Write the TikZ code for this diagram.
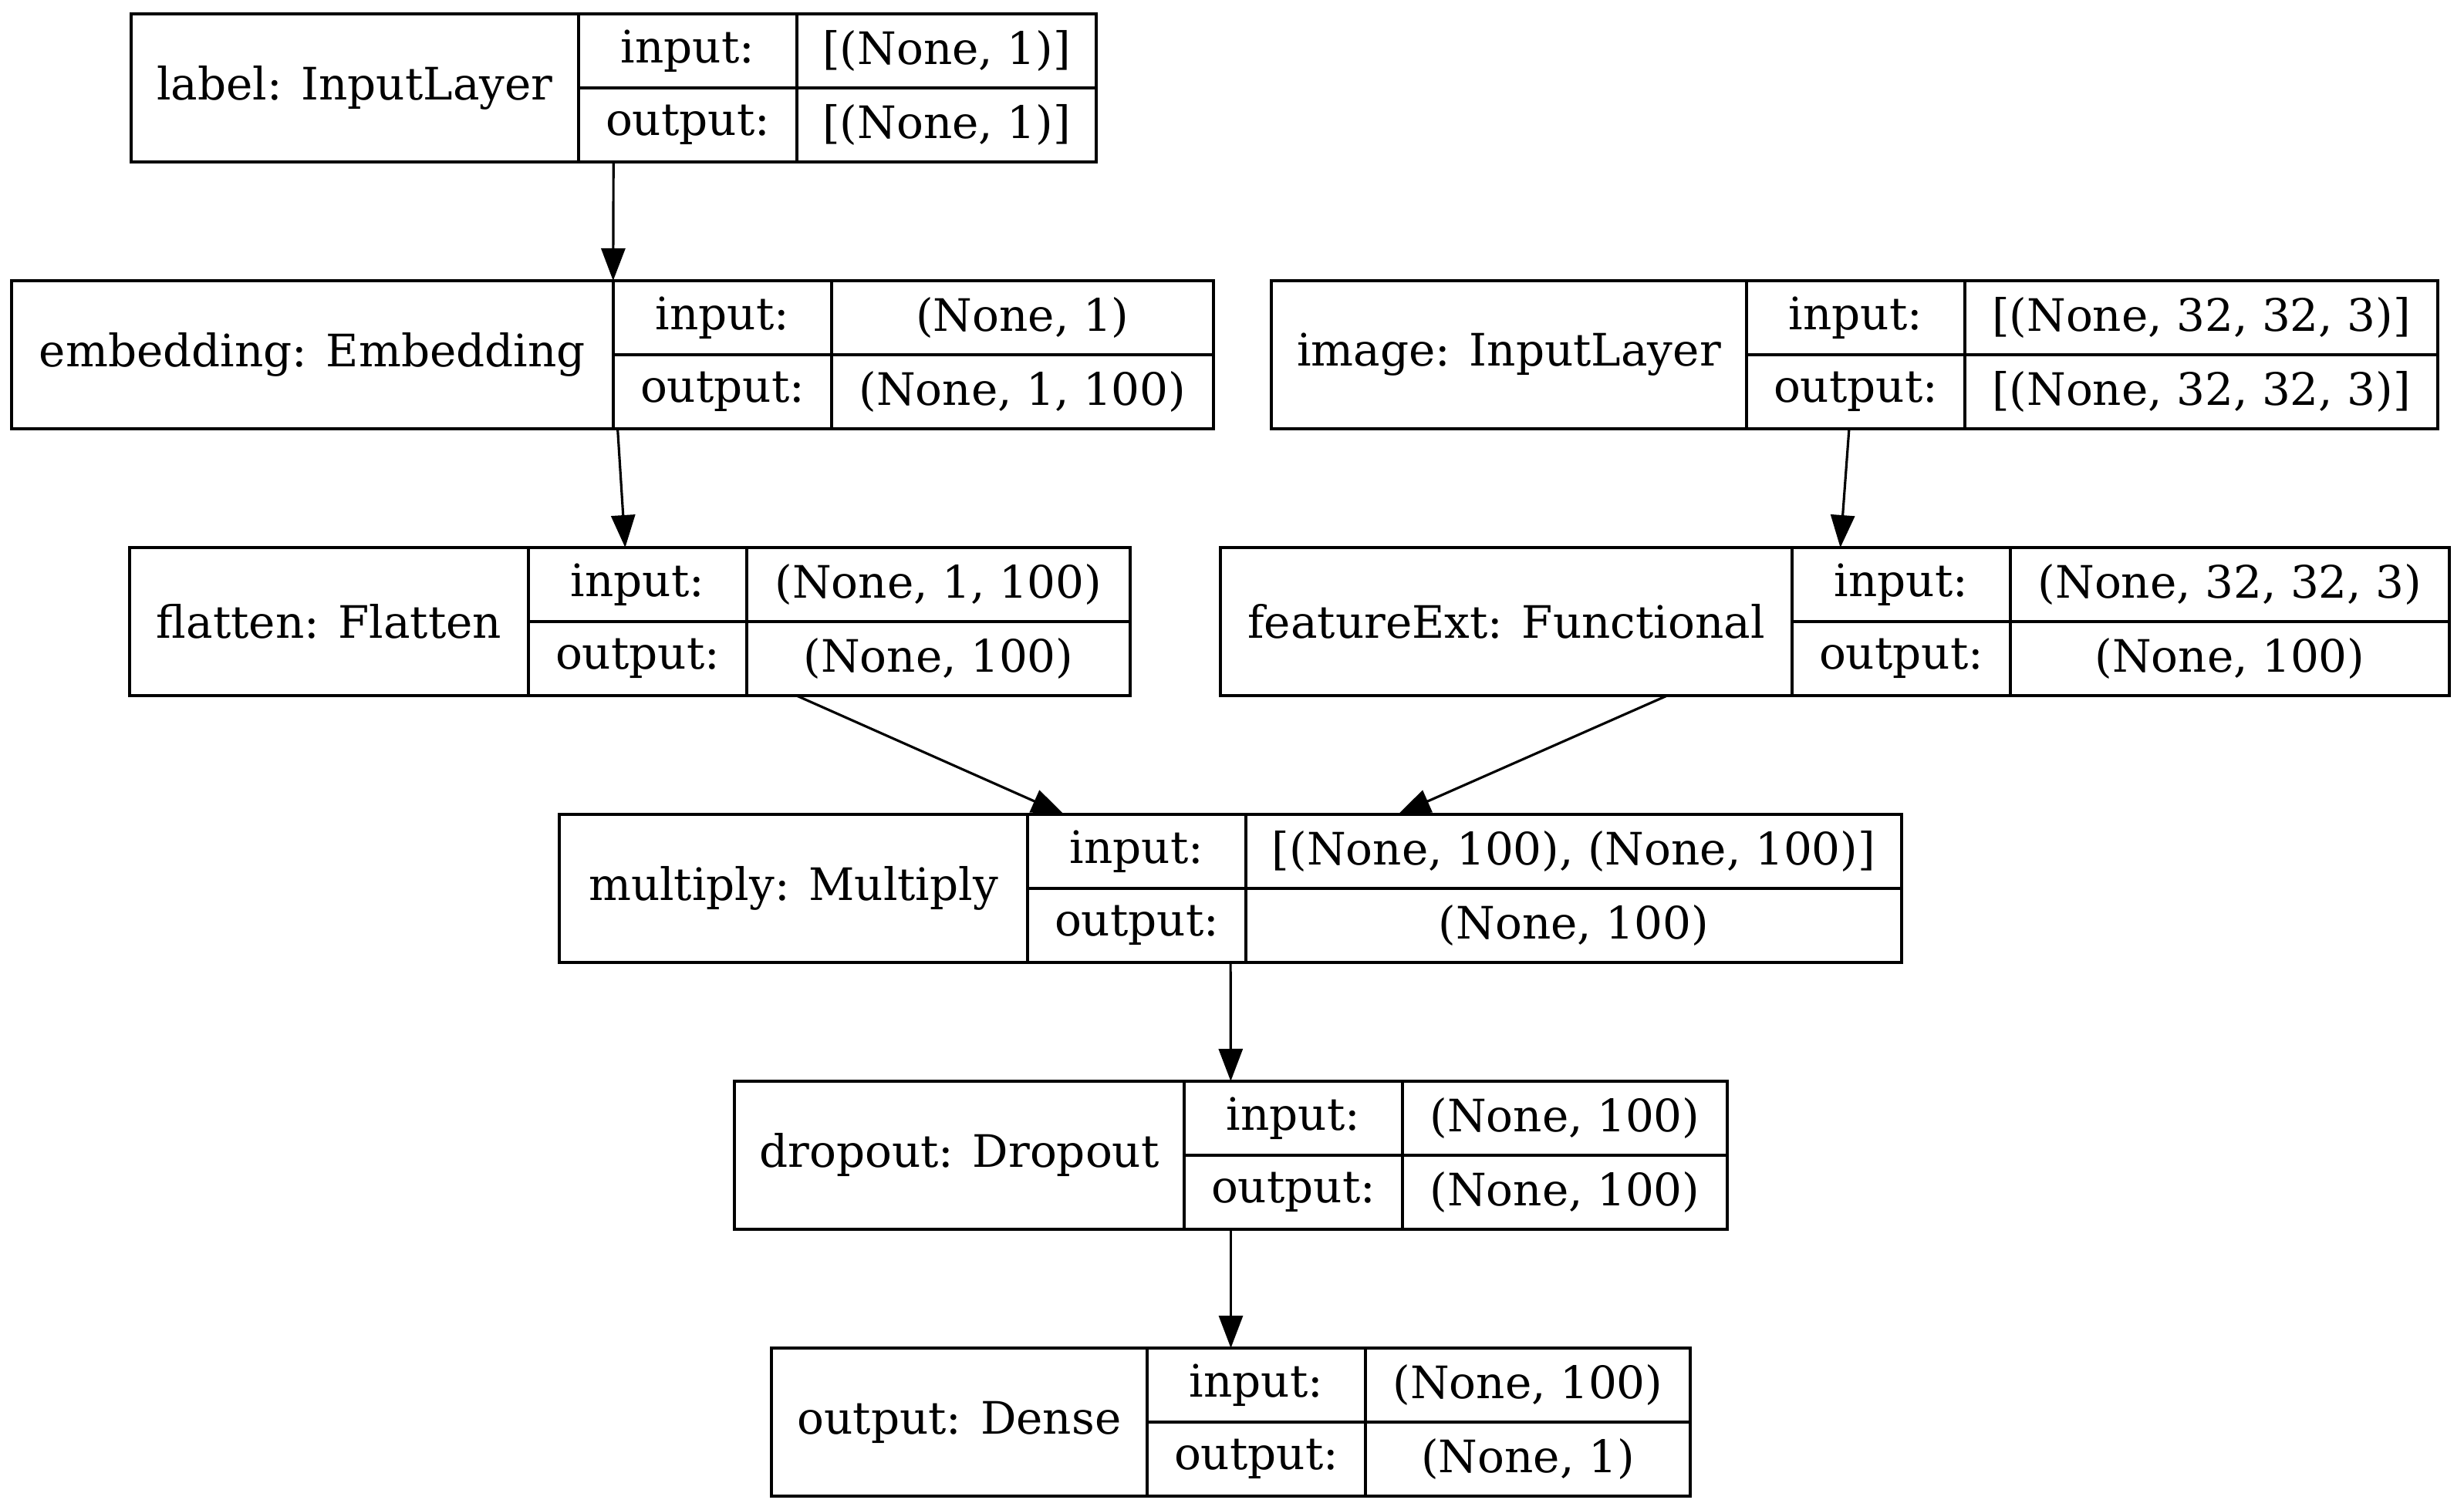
\documentclass[tikz,border=0pt]{standalone}
\usepackage{fontspec}
\setmainfont{DejaVu Serif}
\usepackage{tikz}
\usetikzlibrary{arrows.meta,positioning}
\tikzset{
  layer/.style={
    rectangle,
    minimum height=1.92cm,
    inner sep=0pt,
    outer sep=0pt
  },
  titlecell/.style={
    rectangle,
    draw=black,
    line width=0.9pt,
    minimum height=1.92cm,
    inner sep=0pt,
    outer sep=0pt,
    anchor=north west,
    font=\fontsize{16.5}{19.8}\selectfont
  },
  keycell/.style={
    rectangle,
    draw=black,
    line width=0.9pt,
    minimum width=2.83cm,
    minimum height=0.96cm,
    inner sep=0pt,
    outer sep=0pt,
    font=\fontsize{16.5}{19.8}\selectfont
  },
  valcell/.style={
    rectangle,
    draw=black,
    line width=0.9pt,
    minimum height=0.96cm,
    inner sep=0pt,
    outer sep=0pt,
    font=\fontsize{16.5}{19.8}\selectfont
  },
  link/.style={-{Triangle[length=4.2mm,width=3.1mm]},line width=0.9pt,draw=black}
}
\begin{document}
\begin{tikzpicture}
  \useasboundingbox (0,0) rectangle (31.94,-19.58);

  % label: InputLayer
  \node[layer, minimum width=12.51cm] (label) at (7.955,-1.14) {};
  \node[titlecell, minimum width=5.80cm] (labelName) at (label.north west) {label: InputLayer};
  \node[keycell, anchor=north west] (labelIn) at (labelName.north east) {input:};
  \node[keycell, below=0pt of labelIn] (labelOut) {output:};
  \node[valcell, minimum width=3.88cm, right=0pt of labelIn] (labelInVal) {[(None, 1)]};
  \node[valcell, minimum width=3.88cm, right=0pt of labelOut] (labelOutVal) {[(None, 1)]};

  % embedding: Embedding
  \node[layer, minimum width=15.59cm] (embedding) at (7.945,-4.60) {};
  \node[titlecell, minimum width=7.80cm] (embeddingName) at (embedding.north west) {embedding: Embedding};
  \node[keycell, anchor=north west] (embeddingIn) at (embeddingName.north east) {input:};
  \node[keycell, below=0pt of embeddingIn] (embeddingOut) {output:};
  \node[valcell, minimum width=4.95cm, right=0pt of embeddingIn] (embeddingInVal) {(None, 1)};
  \node[valcell, minimum width=4.95cm, right=0pt of embeddingOut] (embeddingOutVal) {(None, 1, 100)};

  % image: InputLayer
  \node[layer, minimum width=15.12cm] (image) at (24.04,-4.60) {};
  \node[titlecell, minimum width=6.16cm] (imageName) at (image.north west) {image: InputLayer};
  \node[keycell, anchor=north west] (imageIn) at (imageName.north east) {input:};
  \node[keycell, below=0pt of imageIn] (imageOut) {output:};
  \node[valcell, minimum width=6.13cm, right=0pt of imageIn] (imageInVal) {[(None, 32, 32, 3)]};
  \node[valcell, minimum width=6.13cm, right=0pt of imageOut] (imageOutVal) {[(None, 32, 32, 3)]};

  % flatten: Flatten
  \node[layer, minimum width=12.97cm] (flatten) at (8.165,-8.06) {};
  \node[titlecell, minimum width=5.17cm] (flattenName) at (flatten.north west) {flatten: Flatten};
  \node[keycell, anchor=north west] (flattenIn) at (flattenName.north east) {input:};
  \node[keycell, below=0pt of flattenIn] (flattenOut) {output:};
  \node[valcell, minimum width=4.97cm, right=0pt of flattenIn] (flattenInVal) {(None, 1, 100)};
  \node[valcell, minimum width=4.97cm, right=0pt of flattenOut] (flattenOutVal) {(None, 100)};

  % featureExt: Functional
  \node[layer, minimum width=15.93cm] (featureExt) at (23.785,-8.06) {};
  \node[titlecell, minimum width=7.41cm] (featureExtName) at (featureExt.north west) {featureExt: Functional};
  \node[keycell, anchor=north west] (featureExtIn) at (featureExtName.north east) {input:};
  \node[keycell, below=0pt of featureExtIn] (featureExtOut) {output:};
  \node[valcell, minimum width=5.69cm, right=0pt of featureExtIn] (featureExtInVal) {(None, 32, 32, 3)};
  \node[valcell, minimum width=5.69cm, right=0pt of featureExtOut] (featureExtOutVal) {(None, 100)};

  % multiply: Multiply
  \node[layer, minimum width=17.40cm] (multiply) at (15.95,-11.52) {};
  \node[titlecell, minimum width=6.07cm] (multiplyName) at (multiply.north west) {multiply: Multiply};
  \node[keycell, anchor=north west] (multiplyIn) at (multiplyName.north east) {input:};
  \node[keycell, below=0pt of multiplyIn] (multiplyOut) {output:};
  \node[valcell, minimum width=8.50cm, right=0pt of multiplyIn] (multiplyInVal) {[(None, 100), (None, 100)]};
  \node[valcell, minimum width=8.50cm, right=0pt of multiplyOut] (multiplyOutVal) {(None, 100)};

  % dropout: Dropout
  \node[layer, minimum width=12.87cm] (dropout) at (15.955,-14.98) {};
  \node[titlecell, minimum width=5.83cm] (dropoutName) at (dropout.north west) {dropout: Dropout};
  \node[keycell, anchor=north west] (dropoutIn) at (dropoutName.north east) {input:};
  \node[keycell, below=0pt of dropoutIn] (dropoutOut) {output:};
  \node[valcell, minimum width=4.21cm, right=0pt of dropoutIn] (dropoutInVal) {(None, 100)};
  \node[valcell, minimum width=4.21cm, right=0pt of dropoutOut] (dropoutOutVal) {(None, 100)};

  % output: Dense
  \node[layer, minimum width=11.91cm] (output) at (15.955,-18.44) {};
  \node[titlecell, minimum width=4.87cm] (outputName) at (output.north west) {output: Dense};
  \node[keycell, anchor=north west] (outputIn) at (outputName.north east) {input:};
  \node[keycell, below=0pt of outputIn] (outputOut) {output:};
  \node[valcell, minimum width=4.21cm, right=0pt of outputIn] (outputInVal) {(None, 100)};
  \node[valcell, minimum width=4.21cm, right=0pt of outputOut] (outputOutVal) {(None, 1)};

  \draw[link] (label) -- (embedding);
  \draw[link] (embedding) -- (flatten);
  \draw[link] (image) -- (featureExt);
  \draw[link] (flatten) -- (multiply);
  \draw[link] (featureExt) -- (multiply);
  \draw[link] (multiply) -- (dropout);
  \draw[link] (dropout) -- (output);
\end{tikzpicture}
\end{document}
